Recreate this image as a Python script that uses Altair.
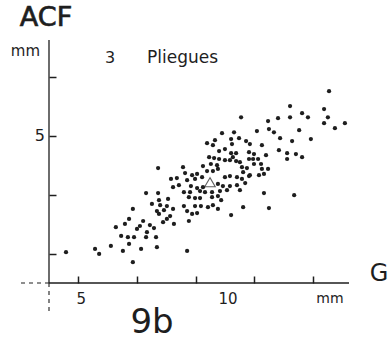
import altair as alt
import pandas as pd

# ---- data (G in mm, ACF in mm) ----
g_mm = [4.58, 5.57, 5.71, 6.11, 6.28, 6.52, 6.46, 6.59, 6.69, 6.73, 6.86, 6.86, 6.90, 6.73,
        7.00, 7.10, 7.14, 7.21, 7.31, 7.34, 7.31,
        7.44, 7.58, 7.68, 7.72, 7.75, 7.72, 7.75, 7.79, 7.92, 7.89, 8.02, 8.02, 8.06, 8.13,
        8.16, 8.23, 8.23, 8.26, 8.43, 8.36, 7.51, 7.65, 7.68,
        9.90, 10.31, 10.48, 10.21, 9.66, 9.39, 9.59, 10.72, 10.24, 9.80, 10.00, 10.21, 10.38,
        10.82, 9.46, 9.63, 9.80, 10.00, 10.17, 10.27, 10.38, 10.51, 10.82, 9.25, 9.52, 9.73,
        8.57, 10.58, 10.75, 9.76, 9.39, 9.59, 10.62, 10.82, 8.64, 8.88, 9.05, 9.22, 10.00,
        10.17, 10.41, 10.58, 8.71, 8.98, 8.84, 9.05, 9.25, 9.76, 9.93, 10.17, 10.41, 8.60,
        8.81, 9.15, 9.32, 9.56, 9.83, 10.07, 8.77, 8.98, 9.15, 9.56, 9.76, 9.87, 8.60, 8.98,
        9.18, 9.42, 9.59, 9.76, 10.62, 8.71, 8.88, 9.05, 10.21, 8.77, 8.71, 10.55, 10.69,
        10.51,
        13.55, 12.22, 13.38, 12.63, 12.83, 12.22, 11.81, 11.47, 13.51, 13.38, 14.09, 13.75,
        11.09, 11.50, 11.67, 12.53, 11.88, 12.29, 12.93, 10.85, 11.26, 11.84, 12.12, 12.42,
        12.63, 12.12, 11.40, 10.99, 10.96, 11.13, 10.99, 11.23, 11.26, 11.47, 10.85, 11.16,
        11.33, 11.33, 12.36, 11.50]
acf_mm = [1.05, 1.16, 0.99, 1.26, 1.90, 1.09, 1.60, 2.01, 1.56, 2.18, 2.52, 0.71, 1.56, 1.33,
          1.84, 1.94, 1.16, 2.11, 1.56, 1.73, 3.06,
          1.97, 1.87, 1.22, 3.91, 2.82, 3.06, 2.35, 2.65, 2.48, 2.07, 2.62, 2.18, 2.86, 2.28,
          3.54, 3.26, 2.52, 2.01, 3.33, 3.57, 2.69, 1.56, 2.45,
          5.10, 5.13, 4.93, 4.90, 4.86, 4.76, 4.69, 4.83, 4.73, 4.49, 4.56, 4.42, 4.42,
          4.45, 4.28, 4.25, 4.22, 4.18, 4.18, 4.28, 4.15, 4.11, 4.22, 3.98, 4.05, 4.01,
          3.94, 3.94, 3.91, 3.88, 3.81, 3.81, 3.77, 3.64, 3.74, 3.67, 3.71, 3.60, 3.60,
          3.64, 3.60, 3.54, 3.50, 3.54, 3.30, 3.23, 3.26, 3.37, 3.30, 3.30, 3.33, 3.09,
          3.09, 3.13, 3.09, 3.09, 3.13, 3.16, 2.92, 2.89, 2.89, 2.92, 2.96, 2.82, 2.62, 2.62,
          2.62, 2.58, 2.65, 2.52, 2.58, 2.45, 2.35, 2.38, 2.31, 2.11, 1.09, 5.64, 3.40,
          3.16,
          6.53, 6.02, 5.92, 5.78, 5.64, 5.64, 5.61, 5.51, 5.64, 5.44, 5.44, 5.27,
          5.17, 5.24, 5.13, 5.20, 4.93, 4.83, 4.90, 4.73, 4.69, 4.52, 4.42, 4.39,
          4.28, 4.22, 4.35, 4.39, 4.22, 4.22, 4.05, 4.05, 3.88, 3.88, 3.67, 3.67,
          3.71, 3.06, 2.99, 2.55]
mean_g = [9.49]
mean_acf = [3.43]

x_tick_values = [5, 6, 7, 8, 9, 10, 11, 12, 13, 14]
y_tick_values = [1, 2, 3, 4, 5, 6, 7, 8]
x_label_values = [5.0, 10.0]
x_label_texts = ["5", "10"]
y_label_values = [5.0]
y_label_texts = ["5"]

INK = "#1e1e1e"
FONT = "DejaVu Sans"

pts = pd.DataFrame({"G": g_mm, "ACF": acf_mm})
mean = pd.DataFrame({"G": mean_g, "ACF": mean_acf})
xlab = pd.DataFrame({"G": x_label_values, "txt": x_label_texts})
ylab = pd.DataFrame({"ACF": y_label_values, "txt": y_label_texts})

xs = alt.Scale(domain=[4, 14.23], nice=False, zero=False)
ys = alt.Scale(domain=[0, 8.27], nice=False, zero=False)

# axes shifted 7 px inward so their ticks point into the plot; no axis labels here,
# the axis lines and the labels are drawn as separate layers below.
x_axis = alt.Axis(values=x_tick_values, offset=-7, domain=False, ticks=True, tickSize=7,
                  tickWidth=1.5, tickColor=INK, grid=False, labels=False, title=None)
y_axis = alt.Axis(values=y_tick_values, offset=-7, domain=False, ticks=True, tickSize=7,
                  tickWidth=1.5, tickColor=INK, grid=False, labels=False, title=None)

dots = alt.Chart(pts).mark_circle(size=18, color=INK, opacity=1).encode(
    x=alt.X("G:Q", scale=xs, axis=x_axis),
    y=alt.Y("ACF:Q", scale=ys, axis=y_axis),
)

tri = alt.Chart(mean).mark_point(shape="triangle-up", size=110, filled=False,
                                 color=INK, strokeWidth=1.1).encode(
    x=alt.X("G:Q"), y=alt.Y("ACF:Q"))

x_tick_labels = alt.Chart(xlab).mark_text(
    font=FONT, fontSize=15, color=INK, align="center", baseline="top", dx=3).encode(
    x=alt.X("G:Q"), y=alt.value(252), text="txt:N")
y_tick_labels = alt.Chart(ylab).mark_text(
    font=FONT, fontSize=16, color=INK, align="right", baseline="middle").encode(
    y=alt.Y("ACF:Q"), x=alt.value(-4), text="txt:N")

one = pd.DataFrame({"a": [0]})
x_line = alt.Chart(one).mark_rule(color=INK, strokeWidth=1.3).encode(
    x=alt.value(0), x2=alt.value(300), y=alt.value(243))
y_line = alt.Chart(one).mark_rule(color=INK, strokeWidth=1.3).encode(
    x=alt.value(0), y=alt.value(0), y2=alt.value(243))
ext_x = alt.Chart(one).mark_rule(color=INK, strokeWidth=1.1, strokeDash=[4, 4]).encode(
    x=alt.value(-28), x2=alt.value(0), y=alt.value(243))
ext_y = alt.Chart(one).mark_rule(color=INK, strokeWidth=1.1, strokeDash=[4, 4]).encode(
    x=alt.value(0), y=alt.value(243), y2=alt.value(271))


def label(text, x, y, size, align="center", stroke=0.0):
    mk = dict(font=FONT, fontSize=size, color=INK, align=align, baseline="alphabetic")
    if stroke > 0:
        mk.update(stroke=INK, strokeWidth=stroke)
    return alt.Chart(pd.DataFrame({"t": [text]})).mark_text(**mk).encode(
        x=alt.value(x), y=alt.value(y), text="t:N")


texts = [
    label("ACF", -3, -14, 27, stroke=0.7),
    label("mm", -9, 16, 15, align="right"),
    label("3", 56, 23, 16, align="left"),
    label("Pliegues", 98, 23, 17, align="left"),
    label("mm", 281, 263, 14),
    label("G", 330, 241, 24),
    label("9b", 103, 293, 34),
]

chart = alt.layer(dots, tri, x_tick_labels, y_tick_labels, x_line, y_line, ext_x, ext_y,
                  *texts).properties(
    width=300, height=243,
    autosize=alt.AutoSizeParams(type="none"),
    padding={"left": 49, "top": 40, "right": 42, "bottom": 59},
    background="white",
).configure_view(stroke=None)

chart.save("out.html", embed_options={"renderer": "svg", "actions": False})
